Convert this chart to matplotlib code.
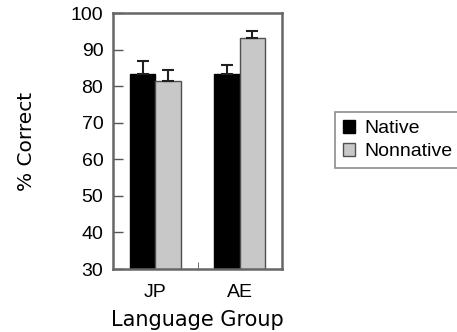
import numpy as np
import matplotlib.pyplot as plt

plt.rcParams['font.family'] = ['Liberation Sans', 'DejaVu Sans']

groups = ['JP', 'AE']
native = [83.3, 83.3]
native_err = [3.6, 2.5]
nonnative = [81.5, 93.1]
nonnative_err = [2.9, 2.0]

fig = plt.figure(figsize=(4.57, 3.32), dpi=100)
ax = fig.add_axes([113 / 457, 1 - 269 / 332, 169 / 457, 256 / 332])

x = np.arange(len(groups))
w = 0.30
err_kw = dict(ecolor='#202020', elinewidth=1.5, capsize=4, capthick=1.5)
ax.bar(x - w / 2, native, w, color='black', edgecolor='black', linewidth=1,
       yerr=[np.zeros(2), native_err], error_kw=err_kw, label='Native')
ax.bar(x + w / 2, nonnative, w, color='#c8c8c8', edgecolor='#505050', linewidth=1,
       yerr=[np.zeros(2), nonnative_err], error_kw=err_kw, label='Nonnative')

ax.set_xlim(-0.5, 1.5)
ax.set_ylim(30, 100)
ax.set_yticks(range(30, 101, 10))
ax.set_xticks(x)
ax.set_xticklabels(groups)
ax.set_xticks([0.5], minor=True)
ax.tick_params(axis='y', direction='in', length=7, width=1, color='#555555',
               labelsize=14, pad=7)
ax.tick_params(axis='x', which='major', length=0, labelsize=14, pad=11)
ax.tick_params(axis='x', which='minor', direction='in', length=5, color='#555555')
for s in ax.spines.values():
    s.set_color('#666666')
    s.set_linewidth(1.8)

ax.set_ylabel('% Correct', fontsize=14.5, family='DejaVu Sans', labelpad=25)
ax.set_xlabel('Language Group', fontsize=15, family='DejaVu Sans', labelpad=6)

leg = fig.legend(loc='upper left', bbox_to_anchor=(335 / 457, 1 - 112 / 332),
                 fontsize=14, frameon=True, fancybox=False, handlelength=0.65,
                 handleheight=0.65, handletextpad=0.45, borderpad=0.4,
                 labelspacing=0.3, borderaxespad=0)
leg.get_frame().set_edgecolor('#707070')
leg.get_frame().set_linewidth(1.2)

fig.savefig('out.png', dpi=100)
